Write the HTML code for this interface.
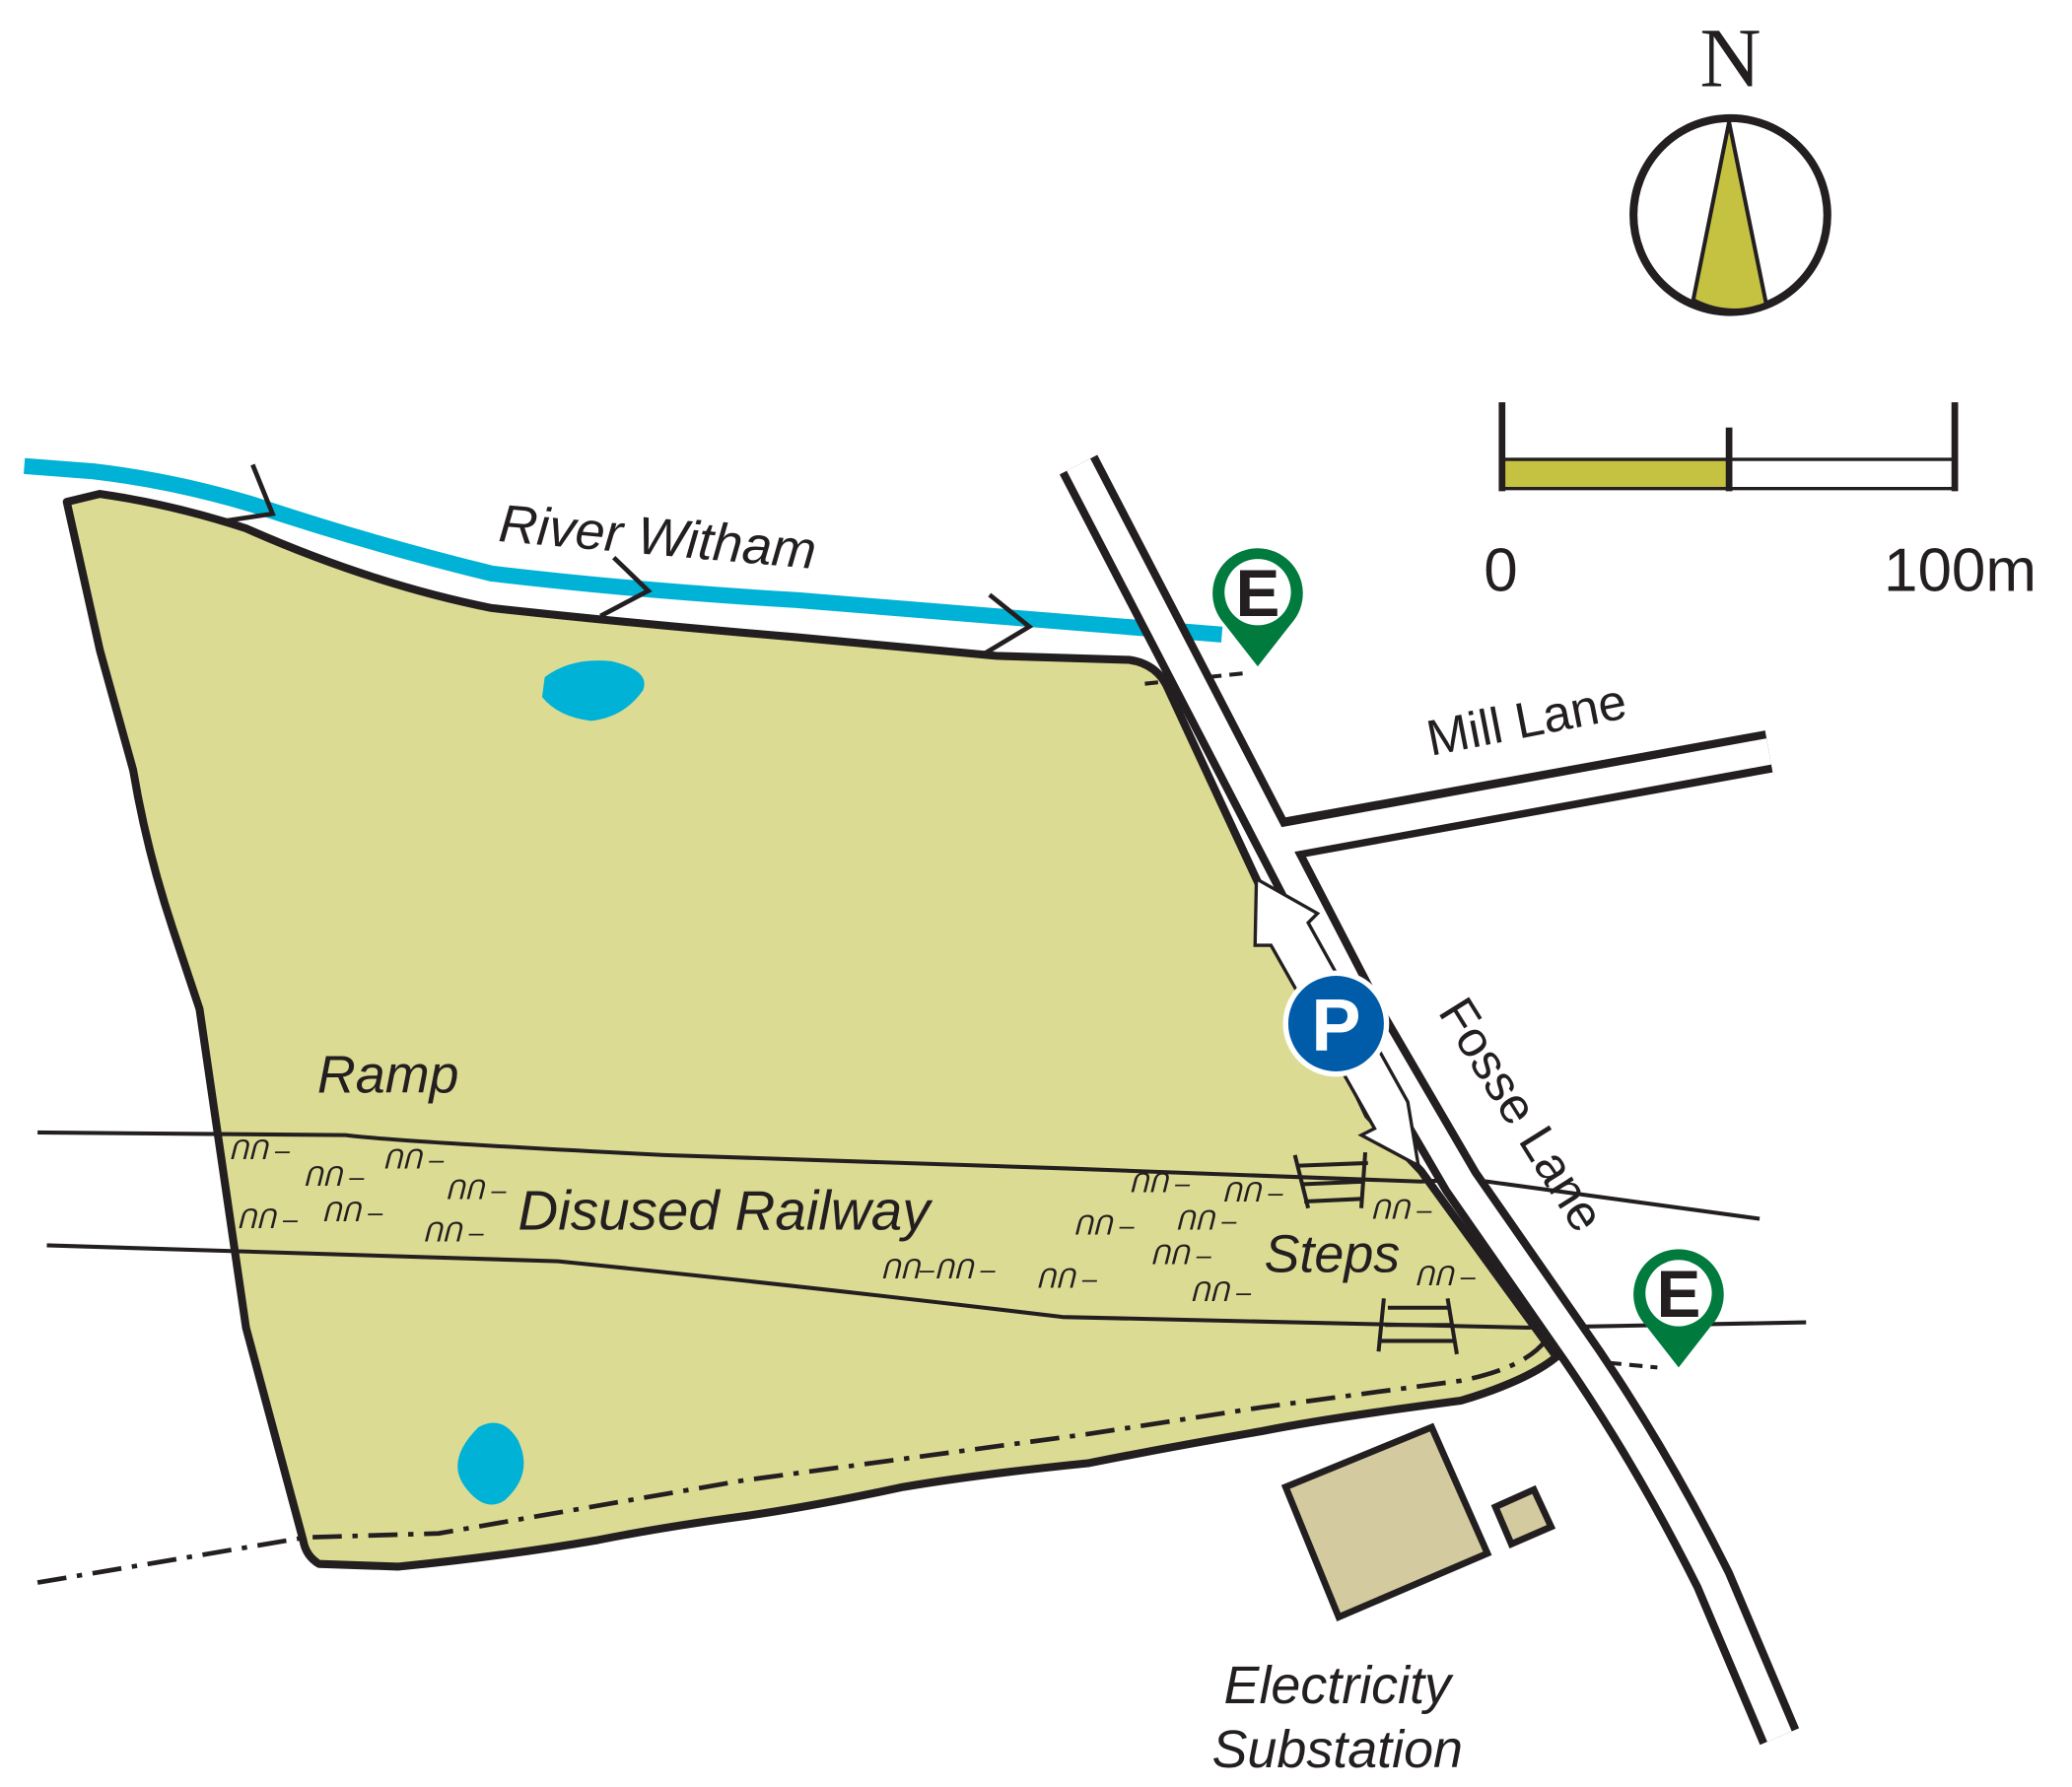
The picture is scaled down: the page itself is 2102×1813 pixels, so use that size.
<!DOCTYPE html>
<html><head><meta charset="utf-8"><style>
html,body{margin:0;padding:0;background:#fff}
svg{display:block}
text{font-family:"Liberation Sans",sans-serif;fill:#231f20}
.it{font-style:italic}
</style></head><body>
<svg width="2102" height="1813" viewBox="0 0 1560 1346" xmlns="http://www.w3.org/2000/svg">
<!-- river -->
<path d="M18,351 L70,355 Q130,362 190,380 Q280,410 370,432 Q480,445 600,452 L920,478" fill="none" stroke="#00b2d6" stroke-width="12"/>
<!-- park -->
<path d="M50,378 L75,372 Q130,380 185,398 Q280,440 370,458 Q480,470 600,480 L750,494 L850,497 Q872,500 880,520 L945,660 L1030,840 L1070,882 L1172,1022 Q1150,1040 1100,1055 Q1000,1068 950,1078 Q880,1090 820,1102 Q740,1110 680,1120 Q610,1135 560,1142 Q500,1150 450,1160 Q380,1172 300,1180 L240,1178 Q230,1172 228,1160 L185,1000 L150,760 Q140,730 130,700 Q110,640 100,580 L75,490 Z" fill="#dcdb94" stroke="#231f20" stroke-width="6" stroke-linejoin="round"/>
<!-- river chevrons -->
<g fill="none" stroke="#231f20" stroke-width="3.5">
<path d="M190,350 L205,387 L165,393"/><path d="M462,420 L488,445 L452,464"/><path d="M745,448 L775,472 L740,493"/>
</g>
<!-- ponds -->
<path d="M410,510 Q430,495 460,498 Q490,505 484,520 Q470,540 445,543 Q420,540 408,525 Z" fill="#00b2d6"/>
<path d="M360,1075 Q378,1065 390,1085 Q402,1110 380,1130 Q365,1140 350,1120 Q335,1100 360,1075 Z" fill="#00b2d6"/>
<!-- railway lines -->
<g fill="none" stroke="#231f20" stroke-width="3">
<path d="M28,853 L260,855 Q300,860 500,870 L800,880 L1070,890 Q1100,888 1120,890 L1325,918"/>
<path d="M35,938 L420,950 Q600,968 800,992 L1150,1000 L1360,996"/>
<path d="M28,1192 L230,1158 L330,1155 L560,1115 L820,1080 L950,1060 L1100,1040 Q1150,1030 1165,1008" stroke-dasharray="22,8,4,8" stroke-width="3.5"/>
<path d="M862,515 L938,507" stroke-dasharray="10,6"/>
<path d="M1195,1025 L1248,1030" stroke-dasharray="10,6"/>
</g>
<!-- roads -->
<g fill="none" stroke-linejoin="round">
<path d="M812,350 L890,500 L960,635 L1030,770 L1100,890 L1180,1005 Q1240,1090 1290,1190 L1340,1308" stroke="#231f20" stroke-width="32"/>
<path d="M962,633 L1332,566" stroke="#231f20" stroke-width="32"/>
<path d="M812,350 L890,500 L960,635 L1030,770 L1100,890 L1180,1005 Q1240,1090 1290,1190 L1340,1308" stroke="#fff" stroke-width="20"/>
<path d="M966,633 L1332,566" stroke="#fff" stroke-width="20"/>
</g>
<!-- arrow near parking -->
<path d="M946,662 L992,688 L985,695 L1060,830 L1068,878 L1025,855 L1035,850 L957,712 L945,712 Z" fill="#fff" stroke="#231f20" stroke-width="2.5"/>
<!-- substation -->
<polygon points="968,1120 1078,1075 1120,1170 1008,1218" fill="#d3ca9f" stroke="#231f20" stroke-width="5"/>
<polygon points="1126,1135 1155,1122 1168,1150 1138,1163" fill="#d3ca9f" stroke="#231f20" stroke-width="5"/>
<!-- steps -->
<g fill="none" stroke="#231f20" stroke-width="3">
<path d="M975,870 L985,910 M1028,868 L1025,910 M978,878 L1030,876 M980,892 L1027,890 M982,905 L1025,903"/>
<path d="M1042,978 L1038,1018 M1090,978 L1097,1020 M1045,985 L1092,985 M1043,998 L1094,998 M1040,1010 L1096,1010"/>
</g>
<!-- tufts -->
<g font-size="20" class="it">
<text x="172" y="873">ᑎᑎ –</text><text x="228" y="893">ᑎᑎ –</text><text x="288" y="880">ᑎᑎ –</text><text x="335" y="903">ᑎᑎ –</text>
<text x="178" y="925">ᑎᑎ –</text><text x="242" y="920">ᑎᑎ –</text><text x="318" y="935">ᑎᑎ –</text>
<text x="850" y="898">ᑎᑎ –</text><text x="920" y="905">ᑎᑎ –</text><text x="808" y="930">ᑎᑎ –</text><text x="885" y="926">ᑎᑎ –</text>
<text x="1032" y="918">ᑎᑎ –</text><text x="866" y="952">ᑎᑎ –</text><text x="663" y="963">ᑎᑎ–ᑎᑎ –</text><text x="780" y="970">ᑎᑎ –</text>
<text x="896" y="980">ᑎᑎ –</text><text x="1065" y="968">ᑎᑎ –</text>
</g>
<!-- labels -->
<text x="495" y="418" font-size="40" class="it" text-anchor="middle" transform="rotate(5 495 405)">River Witham</text>
<text x="1150" y="555" font-size="38" text-anchor="middle" transform="rotate(-11 1150 545)">Mill Lane</text>
<text x="1145" y="852" font-size="38" text-anchor="middle" transform="rotate(58 1145 840)">Fosse Lane</text>
<text x="292" y="823" font-size="40" class="it" text-anchor="middle">Ramp</text>
<text x="545" y="926" font-size="42" class="it" text-anchor="middle">Disused Railway</text>
<text x="1003" y="958" font-size="40" class="it" text-anchor="middle">Steps</text>
<text x="1007" y="1283" font-size="40" class="it" text-anchor="middle">Electricity</text>
<text x="1007" y="1331" font-size="40" class="it" text-anchor="middle">Substation</text>
<!-- E markers -->
<g>
<path d="M947,502 L922,470 A34,34 0 1 1 972,470 Z" fill="#007a3d"/>
<circle cx="947" cy="446" r="25" fill="#fff"/>
<text x="947" y="464" font-size="50" font-weight="bold" text-anchor="middle">E</text>
</g>
<g>
<path d="M1264,1030 L1239,998 A34,34 0 1 1 1289,998 Z" fill="#007a3d"/>
<circle cx="1264" cy="974" r="25" fill="#fff"/>
<text x="1264" y="992" font-size="50" font-weight="bold" text-anchor="middle">E</text>
</g>
<!-- P marker -->
<circle cx="1006" cy="771" r="40" fill="#fff"/>
<circle cx="1006" cy="771" r="36" fill="#005ca9"/>
<text x="1006" y="791" font-size="56" font-weight="bold" text-anchor="middle" style="fill:#fff">P</text>
<!-- compass -->
<text x="1303" y="65" font-size="64" text-anchor="middle" style="font-family:'Liberation Serif',serif">N</text>
<circle cx="1303" cy="162" r="73" fill="#fff" stroke="#231f20" stroke-width="6"/>
<path d="M1302,92 L1275,226 Q1302,240 1330,229 Z" fill="#c5c242" stroke="#231f20" stroke-width="3"/>
<!-- scale bar -->
<rect x="1131" y="346" width="171" height="22" fill="#c5c242"/>
<rect x="1131" y="346" width="341" height="22" fill="none" stroke="#231f20" stroke-width="2.5"/>
<g stroke="#231f20" stroke-width="5"><line x1="1131" y1="303" x2="1131" y2="370"/><line x1="1472" y1="303" x2="1472" y2="370"/><line x1="1302" y1="322" x2="1302" y2="370"/></g>
<text x="1130" y="445" font-size="46" text-anchor="middle">0</text>
<text x="1476" y="445" font-size="46" text-anchor="middle">100m</text>
</svg>
</body></html>
